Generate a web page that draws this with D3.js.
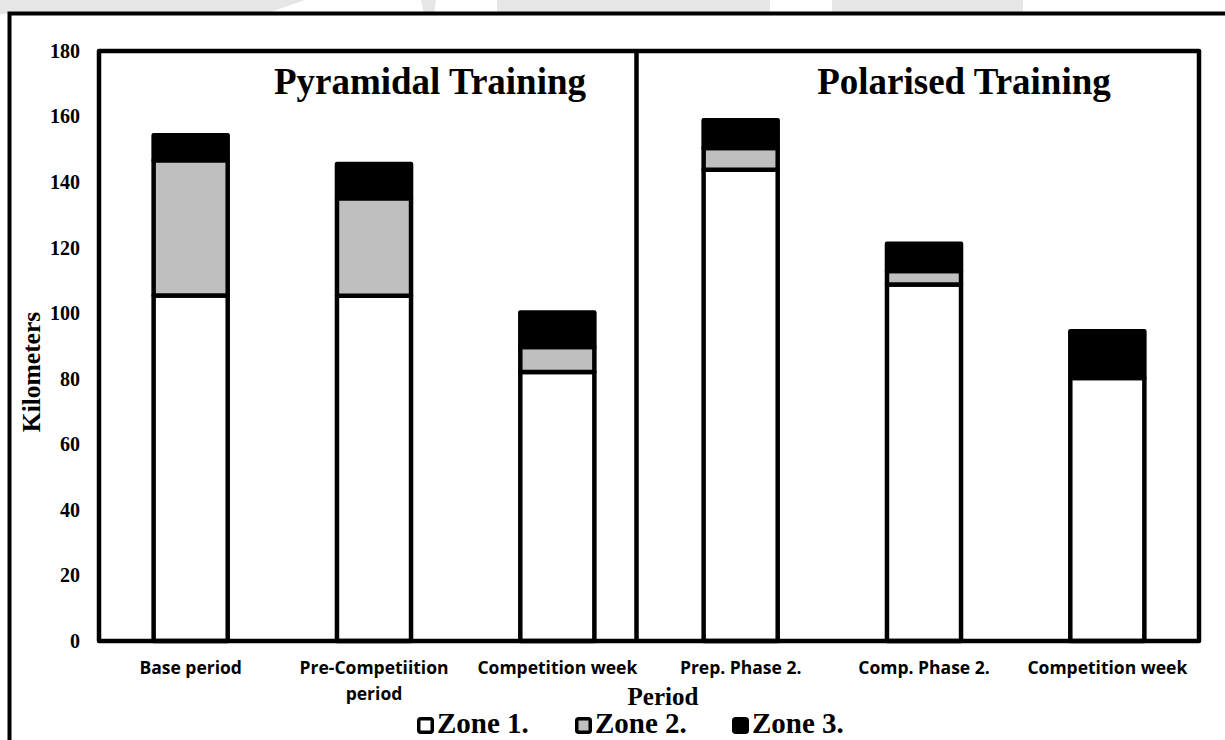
<!DOCTYPE html>
<html>
<head>
<meta charset="utf-8">
<script src="https://cdn.jsdelivr.net/npm/d3@7"></script>
<style>
    body { margin: 0; background: #fff; }
    svg { display: block; }
</style>
</head>
<body>
<div id="chart"></div>
<script>
// data (km per period)
const periods = ["Base period", "Pre-Competiition period", "Competition week", "Prep. Phase 2.", "Comp. Phase 2.", "Competition week"];
const zoneNames = ["Zone 1.", "Zone 2.", "Zone 3."];
const zone1 = [105.4, 105.3, 82.1, 143.8, 108.8, 80.2];
const zone2 = [41.3, 29.8, 7.6, 6.6, 4.1, 0];
const zone3 = [7.6, 10.4, 10.5, 8.5, 8.3, 14.3];
const yTicks = [0, 20, 40, 60, 80, 100, 120, 140, 160, 180];
const groupTitles = ["Pyramidal Training", "Polarised Training"];

(() => {
    const width = 1225, height = 740;
    const plot = { left: 99, right: 1199, top: 51, bottom: 641 };
    const serif = "'Liberation Serif', 'Times New Roman', serif";
    const zoneFill = ["#ffffff", "#bfbfbf", "#000000"];

    const svg = d3.select("#chart")
        .append("svg")
        .attr("width", width)
        .attr("height", height);

    // faint watermark shapes peeking out above the frame
    const wm = svg.append("g").attr("fill", "#e6e6e6");
    wm.append("path").attr("d", "M0,0 H305 L265,14 H0 Z");
    wm.append("path").attr("d", "M421,0 H436 L434,14 H424 Z");
    wm.append("rect").attr("x", 497).attr("y", 0).attr("width", 273).attr("height", 14);
    wm.append("rect").attr("x", 832).attr("y", 0).attr("width", 191).attr("height", 14);

    // outer frame
    svg.append("path")
        .attr("d", `M9.5,${height} V13.5 H${width}`)
        .attr("fill", "none")
        .attr("stroke", "#000")
        .attr("stroke-width", 4);

    const table = periods.map((p, i) => ({ i, z1: zone1[i], z2: zone2[i], z3: zone3[i] }));
    const series = d3.stack().keys(["z1", "z2", "z3"])(table);

    const x = d3.scaleBand()
        .domain(d3.range(periods.length))
        .range([plot.left, plot.right])
        .paddingInner(0.596)
        .paddingOuter(0.298);

    const y = d3.scaleLinear()
        .domain([0, 180])
        .range([plot.bottom, plot.top]);

    // bars
    svg.append("g")
        .selectAll("g")
        .data(series)
        .join("g")
        .attr("fill", (d, i) => zoneFill[i])
        .selectAll("rect")
        .data(d => d)
        .join("rect")
        .attr("x", d => x(d.data.i))
        .attr("y", d => y(d[1]))
        .attr("width", x.bandwidth())
        .attr("height", d => y(d[0]) - y(d[1]))
        .attr("stroke", "#000")
        .attr("stroke-width", 4.5)
        .attr("stroke-linejoin", "round");

    // plot frame + divider between the two programmes
    svg.append("rect")
        .attr("x", plot.left)
        .attr("y", plot.top)
        .attr("width", plot.right - plot.left)
        .attr("height", plot.bottom - plot.top)
        .attr("fill", "none")
        .attr("stroke", "#000")
        .attr("stroke-width", 4.5)
        .attr("stroke-linejoin", "round");

    svg.append("line")
        .attr("x1", 636.5).attr("x2", 636.5)
        .attr("y1", plot.top).attr("y2", plot.bottom)
        .attr("stroke", "#000")
        .attr("stroke-width", 4.5);

    // y axis
    const yAxis = svg.append("g")
        .attr("transform", `translate(${plot.left},0)`)
        .call(d3.axisLeft(y).tickValues(yTicks).tickSize(0).tickPadding(19));
    yAxis.select(".domain").remove();
    yAxis.selectAll("text")
        .style("font-family", serif)
        .style("font-weight", "bold")
        .style("font-size", "20px")
        .attr("fill", "#000");

    // x axis
    const xAxis = svg.append("g")
        .attr("transform", `translate(0,${plot.bottom})`)
        .call(d3.axisBottom(x).tickFormat(i => periods[i]).tickSize(0).tickPadding(21));
    xAxis.select(".domain").remove();
    xAxis.selectAll("text")
        .style("font-family", "'Open Sans', sans-serif")
        .style("font-weight", "bold")
        .style("font-size", "17.5px")
        .attr("fill", "#000")
        .call(wrap, x.step() - 4);

    function wrap(texts, w) {
        texts.each(function () {
            const text = d3.select(this);
            const words = text.text().split(/\s+/);
            const yy = text.attr("y"), dy = parseFloat(text.attr("dy"));
            text.text(null);
            let line = [], lineNo = 0;
            let tspan = text.append("tspan").attr("x", 0).attr("y", yy).attr("dy", dy + "em");
            words.forEach(word => {
                line.push(word);
                tspan.text(line.join(" "));
                if (tspan.node().getComputedTextLength() > w && line.length > 1) {
                    line.pop();
                    tspan.text(line.join(" "));
                    line = [word];
                    tspan = text.append("tspan").attr("x", 0).attr("y", yy)
                        .attr("dy", (++lineNo * 1.48 + dy) + "em").text(word);
                }
            });
        });
    }

    // group titles
    svg.selectAll(".group-title")
        .data(groupTitles)
        .join("text")
        .attr("class", "group-title")
        .attr("x", (d, i) => [430, 964][i])
        .attr("y", 94)
        .attr("text-anchor", "middle")
        .style("font-family", serif)
        .style("font-weight", "bold")
        .style("font-size", "37px")
        .text(d => d);

    // axis titles
    svg.append("text")
        .attr("transform", "rotate(-90)")
        .attr("x", -372)
        .attr("y", 40)
        .attr("text-anchor", "middle")
        .style("font-family", serif)
        .style("font-weight", "bold")
        .style("font-size", "25.5px")
        .text("Kilometers");

    svg.append("text")
        .attr("x", 663)
        .attr("y", 705)
        .attr("text-anchor", "middle")
        .style("font-family", serif)
        .style("font-weight", "bold")
        .style("font-size", "25px")
        .text("Period");

    // legend
    const legend = svg.append("g")
        .selectAll("g")
        .data(zoneNames)
        .join("g")
        .attr("transform", (d, i) => `translate(${[417, 575, 732][i]},717)`);

    legend.append("rect")
        .attr("x", 1.75).attr("y", 1.75)
        .attr("width", 13.5).attr("height", 13.5)
        .attr("rx", 2)
        .attr("fill", (d, i) => zoneFill[i])
        .attr("stroke", "#000")
        .attr("stroke-width", 3.5);

    legend.append("text")
        .attr("x", 20)
        .attr("y", 16)
        .style("font-family", serif)
        .style("font-weight", "bold")
        .style("font-size", "29px")
        .text(d => d);
})();
</script>
</body>
</html>
